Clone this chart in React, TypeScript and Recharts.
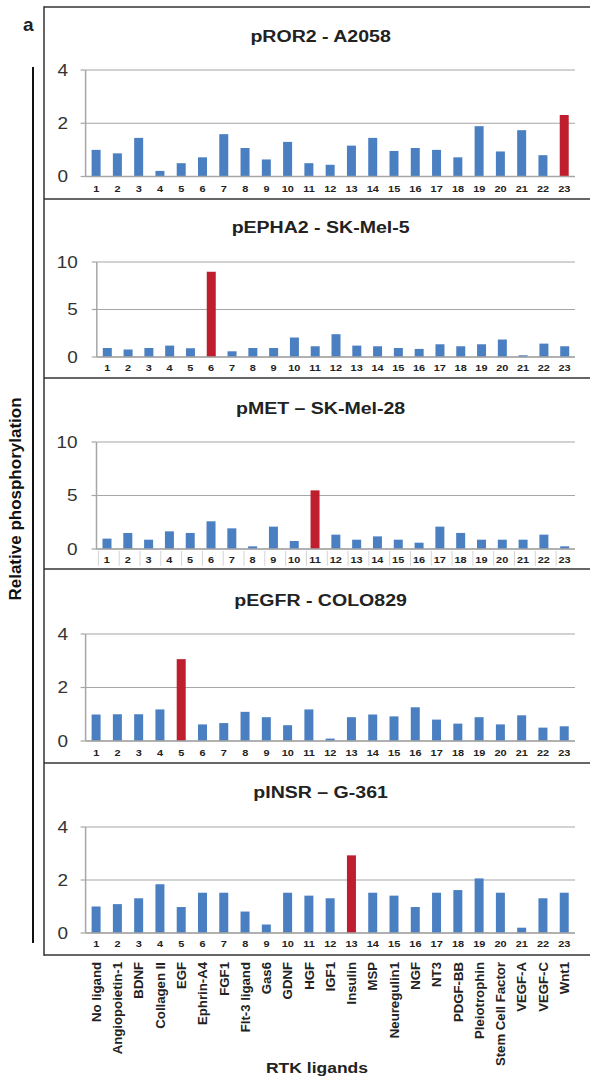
import React from 'react';
import { BarChart, Bar, XAxis, YAxis, CartesianGrid, Cell } from 'recharts';

// ---------- data ----------
const ligandNumbers = ['1','2','3','4','5','6','7','8','9','10','11','12','13','14','15','16','17','18','19','20','21','22','23'];
const ligandNames = ['No ligand','Angiopoietin-1','BDNF','Collagen II','EGF','Ephrin-A4','FGF1','Flt-3 ligand','Gas6','GDNF','HGF','IGF1','Insulin','MSP','Neuregulin1','NGF','NT3','PDGF-BB','Pleiotrophin','Stem Cell Factor','VEGF-A','VEGF-C','Wnt1'];

const pROR2_A2058 = [1.0,0.87,1.45,0.21,0.5,0.72,1.59,1.07,0.64,1.3,0.5,0.44,1.16,1.45,0.96,1.07,1.0,0.72,1.89,0.94,1.74,0.8,2.31];
const pEPHA2_SKMel5 = [0.95,0.78,0.95,1.2,0.92,8.97,0.6,0.95,0.95,2.05,1.13,2.4,1.2,1.13,0.95,0.85,1.34,1.13,1.34,1.84,0.18,1.41,1.13];
const pMET_SKMel28 = [0.97,1.5,0.87,1.65,1.5,2.59,1.93,0.25,2.09,0.75,5.48,1.34,0.87,1.18,0.87,0.59,2.09,1.5,0.87,0.87,0.87,1.34,0.25];
const pEGFR_COLO829 = [0.99,1.0,1.0,1.18,3.06,0.62,0.67,1.09,0.89,0.59,1.18,0.09,0.89,0.99,0.92,1.26,0.8,0.65,0.89,0.62,0.96,0.5,0.55];
const pINSR_G361 = [1.0,1.09,1.31,1.84,0.98,1.52,1.52,0.81,0.32,1.52,1.41,1.31,2.93,1.52,1.41,0.98,1.52,1.62,2.06,1.52,0.2,1.31,1.52];

const titles = ['pROR2 - A2058','pEPHA2 - SK-Mel-5','pMET \u2013 SK-Mel-28','pEGFR - COLO829','pINSR \u2013 G-361'];
const seriesList = [pROR2_A2058, pEPHA2_SKMel5, pMET_SKMel28, pEGFR_COLO829, pINSR_G361];
const highlighted = ['23','6','11','5','13'];
const yTicks4 = [0, 2, 4];
const yTicks10 = [0, 5, 10];

// ---------- styling / layout ----------
const BLUE = '#4a7fc1';
const RED = '#be1e2d';
const GRID = '#a6a6a6';
const FRAME = '#333333';
const FONT = 'Arial, "Liberation Sans", Helvetica, sans-serif';
const W = 590;
const PLOT_RIGHT = 575;

type Layout = {
  top: number; bottom: number; plotTop: number; plotBottom: number; axisX: number;
  yMax: number; ticks: number[]; yGap: number; xGap: number; sep?: boolean; titleY: number;
};
const layouts: Layout[] = [
  { top: 7, bottom: 199, plotTop: 70, plotBottom: 176.5, axisX: 85.6, yMax: 4, ticks: yTicks4, yGap: 12.5, xGap: 8.3, titleY: 41.7 },
  { top: 199, bottom: 378, plotTop: 262, plotBottom: 357, axisX: 96.8, yMax: 10, ticks: yTicks10, yGap: 14, xGap: 6.8, titleY: 233.3 },
  { top: 378, bottom: 569, plotTop: 442, plotBottom: 549, axisX: 96.5, yMax: 10, ticks: yTicks10, yGap: 14, xGap: 6.8, sep: true, titleY: 414.3 },
  { top: 569, bottom: 763, plotTop: 634, plotBottom: 741, axisX: 85.6, yMax: 4, ticks: yTicks4, yGap: 12.5, xGap: 7.8, titleY: 605.7 },
  { top: 763, bottom: 955, plotTop: 827, plotBottom: 933, axisX: 85.6, yMax: 4, ticks: yTicks4, yGap: 12.5, xGap: 6.8, titleY: 797.7 },
];
const dividers = [7, 199, 378, 569, 763, 955];

const NumTick = (props: any) => {
  const { x, y, payload, sep } = props;
  return (
    <g transform={`translate(${x},${y})`}>
      {sep && <line x1={-8.5} x2={-8.5} y1={-5} y2={10} stroke="#d4d4d4" strokeWidth={1} />}
      <text transform="scale(1.15,1)" textAnchor="middle" dy="0.71em" fontSize={9.5} fontWeight="bold" fill="#222" fontFamily={FONT}>
        {payload.value}
      </text>
    </g>
  );
};

const YTick = (props: any) => {
  const { x, y, payload } = props;
  return (
    <text transform={`translate(${x},${y}) scale(1.15,1)`} textAnchor="end" dy="0.355em" fontSize={16.5} fill="#333" fontFamily={FONT}>
      {payload.value}
    </text>
  );
};

const NameTick = (props: any) => {
  const { x, y, payload } = props;
  return (
    <text transform={`translate(${x},${y}) rotate(-90)`} textAnchor="end" dy="0.35em" fontSize={13.2} fontWeight="bold" fill="#222" fontFamily={FONT}>
      {payload.value}
    </text>
  );
};

function Panel({ idx }: { idx: number }) {
  const L = layouts[idx];
  const values = seriesList[idx];
  const isLast = idx === layouts.length - 1;
  const data = ligandNumbers.map((n, i) => ({ num: n, name: ligandNames[i], v: values[i] }));
  const axisH = L.bottom - L.plotBottom;
  const height = isLast ? 1080 - L.top : L.bottom - L.top;
  return (
    <div style={{ position: 'absolute', left: 0, top: L.top }}>
      <BarChart width={W} height={height} data={data}
        margin={{ top: L.plotTop - L.top, right: W - PLOT_RIGHT, left: 0, bottom: 0 }}
        barCategoryGap={0}>
        <CartesianGrid vertical={false} stroke={GRID} strokeWidth={1.2} />
        <XAxis dataKey="num" type="category" interval={0} height={axisH}
          axisLine={{ stroke: GRID, strokeWidth: 1.5 }} tickLine={false} tickSize={0} tickMargin={L.xGap}
          tick={(p: any) => <NumTick {...p} sep={L.sep} />} />
        {isLast && (
          <XAxis xAxisId="names" dataKey="name" type="category" interval={0} height={1080 - L.bottom}
            axisLine={false} tickLine={false} tickSize={0} tickMargin={7}
            tick={(p: any) => <NameTick {...p} />} />
        )}
        <YAxis type="number" domain={[0, L.yMax]} ticks={L.ticks} width={L.axisX} interval={0}
          axisLine={{ stroke: GRID, strokeWidth: 1.5 }} tickLine={{ stroke: GRID, strokeWidth: 1.2 }}
          tickSize={5} tickMargin={L.yGap} tick={(p: any) => <YTick {...p} />} />
        <Bar dataKey="v" barSize={9} isAnimationActive={false}>
          {data.map((d) => (
            <Cell key={d.num} fill={d.num === highlighted[idx] ? RED : BLUE} />
          ))}
        </Bar>
      </BarChart>
    </div>
  );
}

export default function App() {
  return (
    <div style={{ position: 'absolute', left: 0, top: 0, width: W, height: 1080, background: '#fff', overflow: 'hidden' }}>
      {layouts.map((_, i) => <Panel key={i} idx={i} />)}
      <svg width={W} height={1080} style={{ position: 'absolute', left: 0, top: 0, pointerEvents: 'none' }}>
        <line x1={44} x2={44} y1={6.3} y2={955.7} stroke={FRAME} strokeWidth={1.5} />
        {dividers.map((y) => (
          <line key={y} x1={44} x2={W} y1={y} y2={y} stroke={FRAME} strokeWidth={1.5} />
        ))}
        {titles.map((t, i) => (
          <text key={t} transform={`translate(320.6,${layouts[i].titleY}) scale(1.15,1)`} textAnchor="middle"
            fontSize={17} fontWeight="bold" fill="#222" fontFamily={FONT}>{t}</text>
        ))}
        <text x={23} y={31} fontSize={19} fontWeight="bold" fill="#222" fontFamily={FONT}>a</text>
        <line x1={33} x2={33} y1={67} y2={943} stroke="#111" strokeWidth={2} />
        <text transform="translate(15,499) rotate(-90)" textAnchor="middle" dy="0.35em" fontSize={17}
          fontWeight="bold" fill="#111" fontFamily={FONT}>Relative phosphorylation</text>
        <text transform="translate(317,1073) scale(1.13,1)" textAnchor="middle" fontSize={15.5}
          fontWeight="bold" fill="#222" fontFamily={FONT}>RTK ligands</text>
      </svg>
    </div>
  );
}
